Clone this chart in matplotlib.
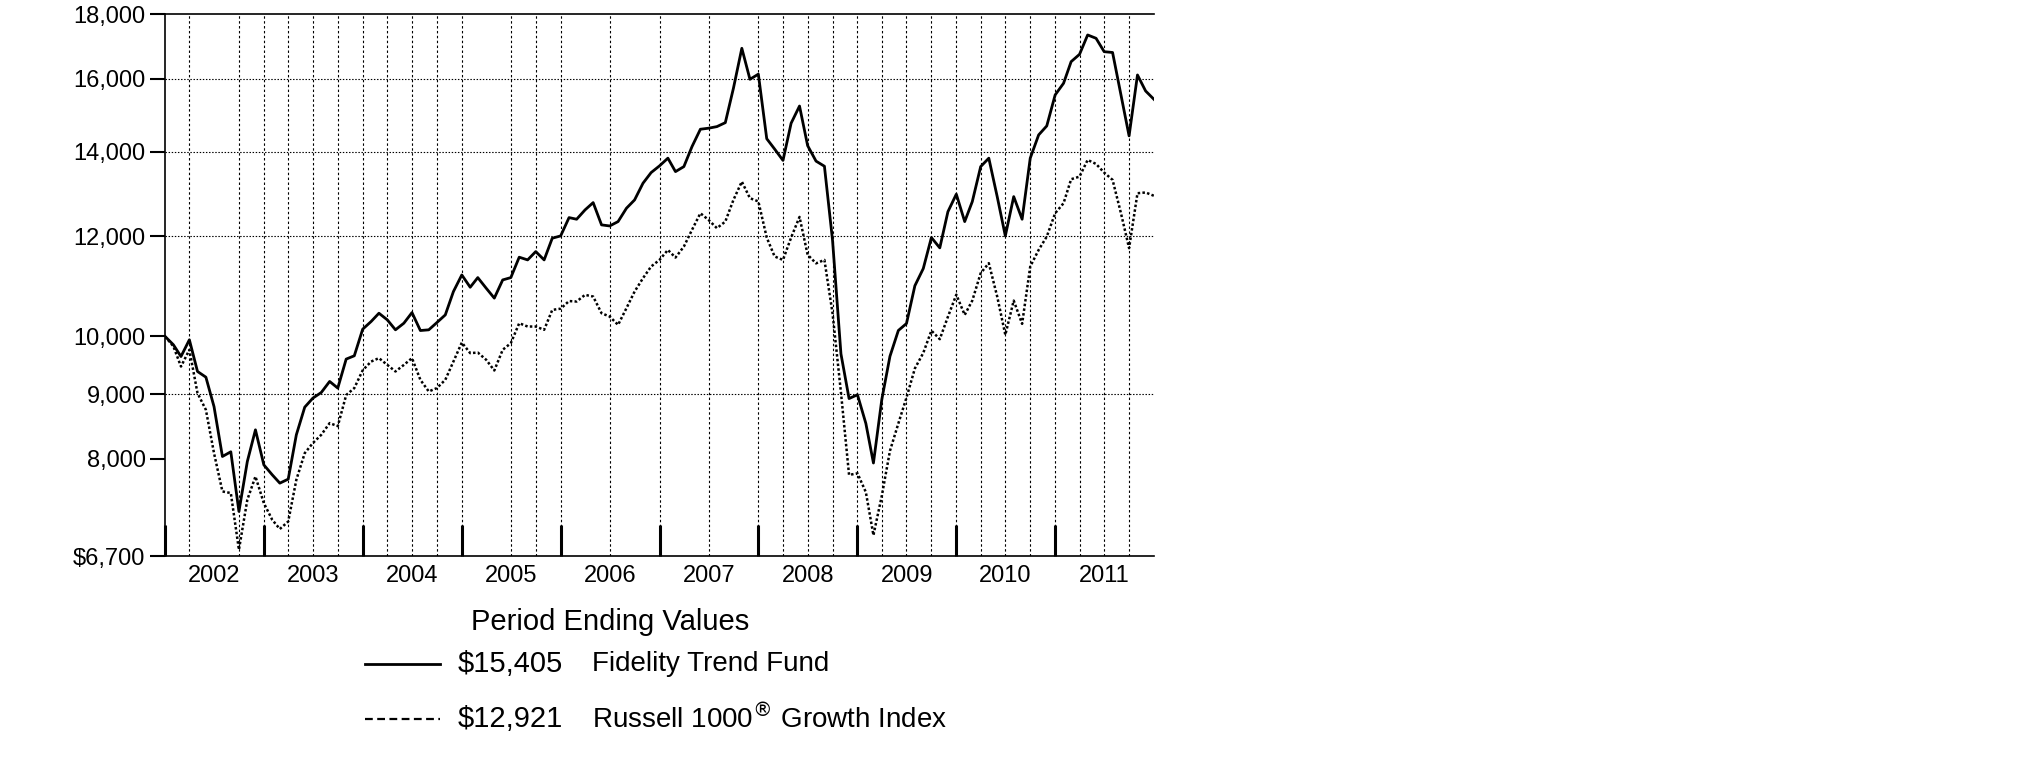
import pandas as pd
import matplotlib
matplotlib.use('Agg')
import matplotlib.pyplot as plt
from matplotlib.lines import Line2D

plt.rcParams['font.family'] = ['Liberation Sans', 'DejaVu Sans']

# Valor de $10,000 investidos, fechamento mensal de dez/2001 a dez/2011
fund_values = [
    10000, 9848, 9639, 9938, 9380, 9283, 8798, 8033, 8102, 7267, 7960, 8433,
    7911, 7769, 7652, 7708, 8357, 8789, 8935, 9027, 9211, 9100, 9594, 9652,
    10132, 10274, 10431, 10305, 10120, 10243, 10443, 10107, 10120, 10255, 10399, 10851,
    11185, 10937, 11131, 10918, 10722, 11084, 11131, 11553, 11496, 11672, 11496, 11960,
    12010, 12418, 12381, 12593, 12762, 12254, 12230, 12328, 12632, 12825, 13221, 13480,
    13646, 13839, 13504, 13628, 14134, 14589, 14616, 14659, 14765, 15721, 16909, 15980,
    16130, 14339, 14072, 13783, 14749, 15219, 14159, 13765, 13637, 11914, 9686, 8928,
    8990, 8532, 7938, 8916, 9643, 10108, 10237, 10967, 11316, 11974, 11751, 12552,
    12960, 12328, 12785, 13628, 13839, 12902, 12010, 12902, 12381, 13839, 14438, 14677,
    15531, 15864, 16502, 16724, 17325, 17220, 16805, 16780, 15531, 14413, 16106, 15643,
    15405,
]
index_values = [
    10000, 9820, 9465, 9758, 9017, 8746, 8082, 7537, 7515, 6777, 7424, 7745,
    7378, 7157, 7038, 7135, 7699, 8082, 8232, 8357, 8537, 8490, 8985, 9100,
    9400, 9551, 9611, 9493, 9380, 9493, 9611, 9238, 9044, 9100, 9238, 9551,
    9888, 9699, 9709, 9582, 9397, 9758, 9877, 10243, 10181, 10181, 10120, 10494,
    10518, 10665, 10656, 10786, 10753, 10431, 10368, 10212, 10528, 10851, 11119, 11358,
    11496, 11707, 11545, 11779, 12143, 12517, 12366, 12181, 12328, 12825, 13260, 12865,
    12790, 11974, 11569, 11495, 11974, 12433, 11605, 11424, 11495, 10429, 9029, 7767,
    7790, 7527, 6959, 7479, 8116, 8532, 8943, 9432, 9702, 10105, 9949, 10364,
    10790, 10399, 10674, 11221, 11428, 10753, 10028, 10674, 10231, 11358, 11707, 11995,
    12517, 12748, 13318, 13381, 13795, 13694, 13480, 13302, 12517, 11745, 12982, 13000,
    12921,
]
series_names = ['Fidelity Trend Fund', 'Russell 1000$^{\\circledR}$ Growth Index']
years = ['2002', '2003', '2004', '2005', '2006', '2007', '2008', '2009', '2010', '2011']
y_ticks = [6700, 8000, 9000, 10000, 12000, 14000, 16000, 18000]
y_tick_labels = ['$6,700', '8,000', '9,000', '10,000', '12,000', '14,000', '16,000', '18,000']
y_grid = [9000, 12000, 14000, 16000]

dates = pd.date_range('2001-12-01', periods=len(fund_values), freq='MS') + pd.offsets.MonthEnd(0)
year_ends = pd.to_datetime([f'{int(y) - 1}-12-31' for y in years])
mid_years = pd.to_datetime([f'{y}-07-01' for y in years])
quarter_ends = pd.date_range('2002-03-01', periods=39, freq='3MS') + pd.offsets.MonthEnd(0)
# linhas trimestrais que nao aparecem no original
skip_q = pd.to_datetime(['2002-06-30', '2005-03-31', '2006-03-31', '2006-09-30',
                         '2007-03-31', '2007-09-30'])

W, H = 2025, 761
fig = plt.figure(figsize=(W / 100, H / 100), dpi=100)
ax = fig.add_axes([165 / W, 1 - 556 / H, (1154 - 165) / W, (556 - 14) / H])

ax.set_yscale('log')
ax.set_ylim(6700, 18000)
ax.set_xlim(dates[0], dates[-1])

# grade
for d in quarter_ends:
    if d in skip_q:
        continue
    ax.axvline(d, color='black', lw=0.8, linestyle=(0, (2.2, 2.2)), zorder=1)
for v in y_grid:
    ax.axhline(v, color='black', lw=0.8, linestyle=(0, (1.3, 1.5)), zorder=1)

ax.plot(dates, fund_values, color='black', lw=2.0, zorder=3)
ax.plot(dates, index_values, color='black', lw=1.8, linestyle=(0, (1.0, 0.9)), zorder=3)

ax.yaxis.set_major_locator(matplotlib.ticker.FixedLocator(y_ticks))
ax.yaxis.set_major_formatter(matplotlib.ticker.FixedFormatter(y_tick_labels))
ax.yaxis.set_minor_locator(matplotlib.ticker.NullLocator())
ax.tick_params(axis='y', which='major', direction='out', length=11, width=1.5,
               labelsize=17, pad=3)

ax.set_xticks(year_ends)
ax.set_xticklabels([])
ax.set_xticks(mid_years, minor=True)
ax.set_xticklabels(years, minor=True)
ax.tick_params(axis='x', which='major', direction='in', length=22, width=2.2)
ax.tick_params(axis='x', which='minor', length=0, labelsize=17, pad=6.5)

ax.spines['right'].set_visible(False)
for s in ['left', 'bottom', 'top']:
    ax.spines[s].set_linewidth(1.2)

# legenda manual abaixo do grafico
def fx(x):
    return x / W

def fy(y):
    return 1 - y / H

fig.text(fx(471), fy(622), 'Period Ending Values', fontsize=21, ha='left', va='center')
rows = [(664, '-', fund_values), (719, (0, (3.5, 2.0)), index_values)]
for (ypix, ls, vals), name in zip(rows, series_names):
    fig.add_artist(Line2D([fx(365), fx(440)], [fy(ypix), fy(ypix)], color='black',
                          lw=2.0 if ls == '-' else 1.6, linestyle=ls))
    fig.text(fx(458), fy(ypix), f'${vals[-1]:,.0f}', fontsize=21, ha='left', va='center')
    fig.text(fx(592), fy(ypix), name, fontsize=20, ha='left', va='center')

fig.savefig('out.png', dpi=100)
